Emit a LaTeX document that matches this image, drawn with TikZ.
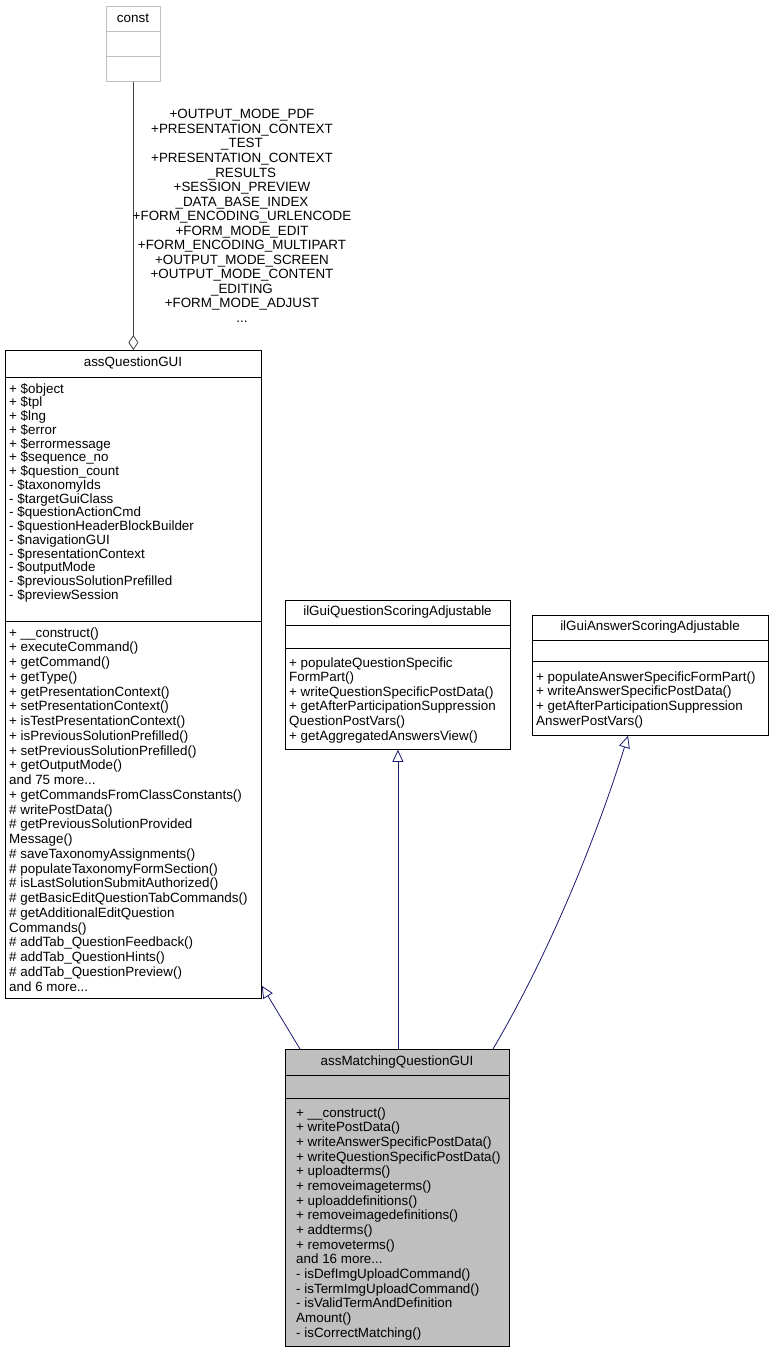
\documentclass[tikz,border=0pt]{standalone}
\usepackage{fontspec}
\setmainfont{Liberation Sans}
\usetikzlibrary{arrows.meta,calc}
\definecolor{edge}{HTML}{191970}
\definecolor{fillg}{HTML}{BFBFBF}
\newcommand\mydots{...}
\begin{document}
\begin{tikzpicture}[x=1pt,y=-1pt,
  txt/.style={anchor=base west,inner sep=0,font=\fontsize{13.4}{14}\selectfont},
  ctxt/.style={inner sep=0,font=\fontsize{13.4}{14}\selectfont},
  box/.style={draw=black,line width=0.8pt,anchor=north west,inner sep=0},
  inh/.style={draw=edge,line width=0.8pt,-{Triangle[open,length=12pt,width=11pt]}}]
\useasboundingbox (0,0) rectangle (774,1352);
% const
\node[box,draw=fillg,minimum width=54pt,minimum height=75pt] (const) at (106,6) {};
\draw[fillg,line width=0.8pt] (106,31) -- (160,31) (106,56) -- (160,56);
\node[ctxt] (constT) at (133,18) {const};
% assQuestionGUI
\node[box,minimum width=256pt,minimum height=648pt] (aq) at (5,350) {};
\draw[line width=0.8pt] (5,377) -- (261,377) (5,621) -- (261,621);
\node[ctxt] (aqT) at (133,363) {assQuestionGUI};
\foreach \t [count=\i from 0] in {+ \$object,+ \$tpl,+ \$lng,+ \$error,+ \$errormessage,+ \$sequence\_no,+ \$question\_count,- \$taxonomyIds,- \$targetGuiClass,- \$questionActionCmd,- \$questionHeaderBlockBuilder,- \$navigationGUI,- \$presentationContext,- \$outputMode,- \$previousSolutionPrefilled,- \$previewSession}
  \node[txt] at (9,393+\i*13.75) {\t};
\foreach \t [count=\i from 0] in {+ \_\_construct(),+ executeCommand(),+ getCommand(),+ getType(),+ getPresentationContext(),+ setPresentationContext(),+ isTestPresentationContext(),+ isPreviousSolutionPrefilled(),+ setPreviousSolutionPrefilled(),+ getOutputMode(),and 75 more\mydots,+ getCommandsFromClassConstants(),\# writePostData(),\# getPreviousSolutionProvided,Message(),\# saveTaxonomyAssignments(),\# populateTaxonomyFormSection(),\# isLastSolutionSubmitAuthorized(),\# getBasicEditQuestionTabCommands(),\# getAdditionalEditQuestion,Commands(),\# addTab\_QuestionFeedback(),\# addTab\_QuestionHints(),\# addTab\_QuestionPreview(),and 6 more\mydots}
  \node[txt] at (9,637+\i*14.75) {\t};
% ilGuiQuestionScoringAdjustable
\node[box,minimum width=225pt,minimum height=149pt] (qs) at (285,600) {};
\draw[line width=0.8pt] (285,625) -- (510,625) (285,648) -- (510,648);
\node[ctxt] (qsT) at (397.5,612) {ilGuiQuestionScoringAdjustable};
\foreach \t [count=\i from 0] in {+ populateQuestionSpecific,FormPart(),+ writeQuestionSpecificPostData(),+ getAfterParticipationSuppression,QuestionPostVars(),+ getAggregatedAnswersView()}
  \node[txt] at (289,667+\i*14.6) {\t};
% ilGuiAnswerScoringAdjustable
\node[box,minimum width=236pt,minimum height=120pt] (as) at (532,615) {};
\draw[line width=0.8pt] (532,640) -- (768,640) (532,661) -- (768,661);
\node[ctxt] (asT) at (650,627) {ilGuiAnswerScoringAdjustable};
\foreach \t [count=\i from 0] in {+ populateAnswerSpecificFormPart(),+ writeAnswerSpecificPostData(),+ getAfterParticipationSuppression,AnswerPostVars()}
  \node[txt] at (536,681+\i*14.7) {\t};
% assMatchingQuestionGUI
\node[box,fill=fillg,minimum width=224pt,minimum height=297pt] (mq) at (285,1049) {};
\draw[line width=0.8pt] (285,1075) -- (509,1075) (285,1098) -- (509,1098);
\node[ctxt] (mqT) at (397,1062) {assMatchingQuestionGUI};
\foreach \t [count=\i from 0] in {+ \_\_construct(),+ writePostData(),+ writeAnswerSpecificPostData(),+ writeQuestionSpecificPostData(),+ uploadterms(),+ removeimageterms(),+ uploaddefinitions(),+ removeimagedefinitions(),+ addterms(),+ removeterms(),and 16 more\mydots,- isDefImgUploadCommand(),- isTermImgUploadCommand(),- isValidTermAndDefinition,Amount(),- isCorrectMatching()}
  \node[txt] at (296,1117+\i*14.67) {\t};
% aggregation const -> assQuestionGUI
\draw[draw=black!75,line width=0.8pt,{Diamond[open,length=15pt,width=10pt]}-] (aq.north -| const.south) -- (const.south);
\node[ctxt,align=center,font=\fontsize{13.4}{14.55}\selectfont] (lbl) at (242,216) {+OUTPUT\_MODE\_PDF\\+PRESENTATION\_CONTEXT\\\_TEST\\+PRESENTATION\_CONTEXT\\\_RESULTS\\+SESSION\_PREVIEW\\\_DATA\_BASE\_INDEX\\+FORM\_ENCODING\_URLENCODE\\+FORM\_MODE\_EDIT\\+FORM\_ENCODING\_MULTIPART\\+OUTPUT\_MODE\_SCREEN\\+OUTPUT\_MODE\_CONTENT\\\_EDITING\\+FORM\_MODE\_ADJUST\\\mydots};
% inheritance
\draw[inh] ($(mq.north west)+(15,0)$) -- ($(aq.south east)+(0,-13)$);
\draw[inh] (mq.north -| qs.south) -- (qs.south);
\draw[inh] ($(mq.north west)+(208,0)$) .. controls (560,935) and (605,810) .. ($(as.south west)+(96,0)$);
\end{tikzpicture}
\end{document}
